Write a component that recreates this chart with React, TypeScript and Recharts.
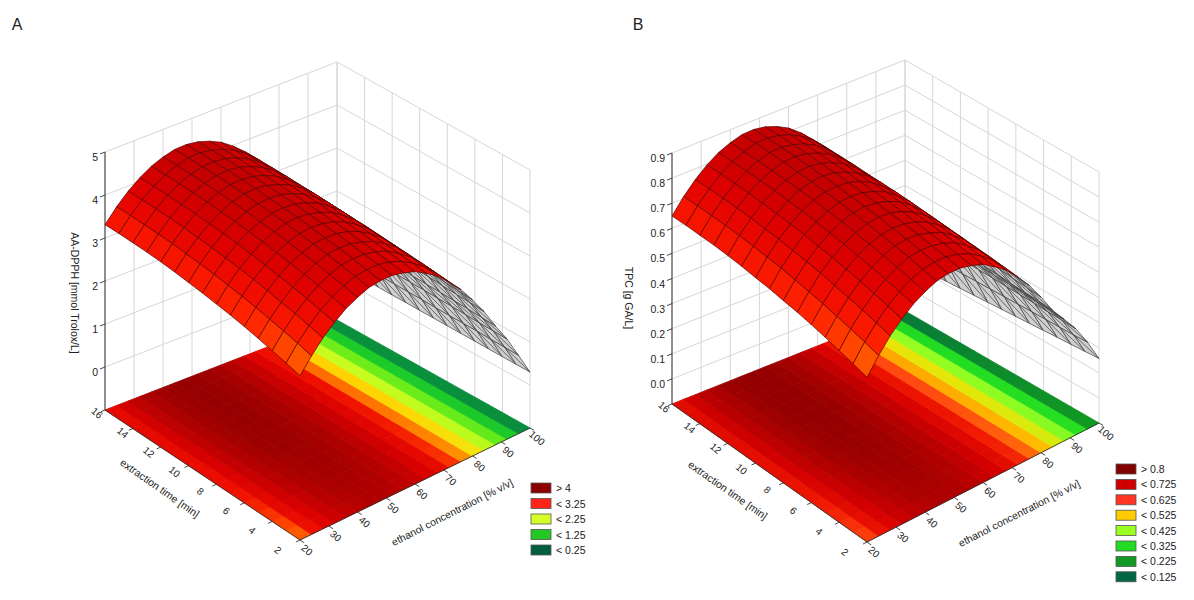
import React from 'react';
import { ScatterChart, Scatter, XAxis, YAxis } from 'recharts';

type Pt = [number, number];

// ─── Data ─────────────────────────────────────────────────────────────────────
const TIME = [2, 3, 4, 5, 6, 7, 8, 9, 10, 11, 12, 13, 14, 15, 16];
const ETHANOL = [20, 24, 28, 32, 36, 40, 44, 48, 52, 56, 60, 64, 68, 72, 76, 80, 84, 88, 92, 96, 100];
const TIME_TICKS = [2, 4, 6, 8, 10, 12, 14, 16];
const ETHANOL_TICKS = [20, 30, 40, 50, 60, 70, 80, 90, 100];
const AA_TICKS = [0, 1, 2, 3, 4, 5];
const TPC_TICKS = [0, 0.1, 0.2, 0.3, 0.4, 0.5, 0.6, 0.7, 0.8, 0.9];

// rows = extraction time (2..16 min), columns = ethanol (20..100 % v/v)
const AA_DPPH = [
  [2.82, 3.15, 3.44, 3.67, 3.86, 3.99, 4.09, 4.12, 4.11, 4.04, 3.94, 3.77, 3.57, 3.30, 3.00, 2.63, 2.23, 1.76, 1.33, 0.82, 0.30],
  [2.90, 3.23, 3.51, 3.74, 3.92, 4.05, 4.14, 4.17, 4.16, 4.09, 3.98, 3.81, 3.60, 3.33, 3.02, 2.65, 2.25, 1.78, 1.34, 0.83, 0.30],
  [2.97, 3.30, 3.58, 3.80, 3.98, 4.11, 4.20, 4.22, 4.20, 4.13, 4.02, 3.84, 3.63, 3.36, 3.05, 2.67, 2.26, 1.79, 1.34, 0.83, 0.30],
  [3.04, 3.36, 3.63, 3.86, 4.03, 4.16, 4.24, 4.27, 4.24, 4.16, 4.05, 3.87, 3.66, 3.38, 3.06, 2.69, 2.27, 1.80, 1.35, 0.84, 0.30],
  [3.10, 3.42, 3.69, 3.91, 4.08, 4.20, 4.28, 4.30, 4.28, 4.20, 4.08, 3.90, 3.68, 3.40, 3.08, 2.70, 2.29, 1.81, 1.36, 0.84, 0.30],
  [3.15, 3.47, 3.74, 3.95, 4.12, 4.24, 4.32, 4.34, 4.31, 4.23, 4.10, 3.92, 3.70, 3.42, 3.10, 2.72, 2.30, 1.81, 1.36, 0.84, 0.30],
  [3.19, 3.51, 3.78, 3.99, 4.16, 4.28, 4.35, 4.37, 4.33, 4.25, 4.13, 3.94, 3.72, 3.44, 3.11, 2.73, 2.30, 1.82, 1.37, 0.84, 0.30],
  [3.23, 3.55, 3.81, 4.03, 4.19, 4.30, 4.38, 4.39, 4.36, 4.27, 4.15, 3.96, 3.74, 3.45, 3.12, 2.74, 2.31, 1.83, 1.37, 0.85, 0.30],
  [3.26, 3.58, 3.84, 4.05, 4.22, 4.33, 4.40, 4.41, 4.38, 4.29, 4.16, 3.97, 3.75, 3.46, 3.13, 2.75, 2.32, 1.83, 1.37, 0.85, 0.30],
  [3.29, 3.60, 3.86, 4.07, 4.23, 4.35, 4.42, 4.43, 4.39, 4.30, 4.17, 3.99, 3.76, 3.47, 3.14, 2.75, 2.32, 1.84, 1.38, 0.85, 0.30],
  [3.31, 3.62, 3.88, 4.09, 4.25, 4.36, 4.43, 4.44, 4.40, 4.31, 4.18, 3.99, 3.76, 3.48, 3.15, 2.76, 2.33, 1.84, 1.38, 0.85, 0.30],
  [3.32, 3.63, 3.89, 4.10, 4.26, 4.37, 4.44, 4.45, 4.41, 4.32, 4.19, 4.00, 3.77, 3.48, 3.15, 2.76, 2.33, 1.84, 1.38, 0.85, 0.30],
  [3.32, 3.63, 3.89, 4.10, 4.26, 4.37, 4.44, 4.45, 4.41, 4.32, 4.19, 4.00, 3.77, 3.48, 3.15, 2.76, 2.33, 1.84, 1.38, 0.85, 0.30],
  [3.32, 3.63, 3.89, 4.10, 4.26, 4.37, 4.44, 4.45, 4.41, 4.32, 4.19, 4.00, 3.77, 3.48, 3.15, 2.76, 2.33, 1.84, 1.38, 0.85, 0.30],
  [3.31, 3.62, 3.88, 4.09, 4.25, 4.36, 4.43, 4.44, 4.40, 4.31, 4.18, 3.99, 3.76, 3.48, 3.15, 2.76, 2.33, 1.84, 1.38, 0.85, 0.30],
];

const TPC = [
  [0.556, 0.619, 0.674, 0.717, 0.753, 0.778, 0.797, 0.803, 0.801, 0.788, 0.769, 0.736, 0.698, 0.647, 0.590, 0.520, 0.444, 0.384, 0.323, 0.246, 0.157],
  [0.571, 0.634, 0.687, 0.731, 0.765, 0.790, 0.807, 0.812, 0.810, 0.797, 0.776, 0.744, 0.704, 0.653, 0.594, 0.524, 0.448, 0.388, 0.325, 0.243, 0.153],
  [0.584, 0.647, 0.700, 0.742, 0.776, 0.801, 0.818, 0.822, 0.818, 0.805, 0.784, 0.750, 0.710, 0.658, 0.600, 0.527, 0.449, 0.390, 0.325, 0.241, 0.149],
  [0.598, 0.658, 0.710, 0.753, 0.786, 0.810, 0.826, 0.831, 0.826, 0.810, 0.790, 0.755, 0.715, 0.662, 0.601, 0.531, 0.451, 0.392, 0.327, 0.240, 0.145],
  [0.609, 0.670, 0.721, 0.763, 0.795, 0.818, 0.833, 0.837, 0.833, 0.818, 0.795, 0.761, 0.719, 0.666, 0.605, 0.533, 0.455, 0.394, 0.328, 0.238, 0.141],
  [0.619, 0.679, 0.731, 0.771, 0.803, 0.826, 0.841, 0.845, 0.839, 0.824, 0.799, 0.765, 0.723, 0.670, 0.609, 0.537, 0.457, 0.394, 0.328, 0.236, 0.137],
  [0.626, 0.687, 0.738, 0.778, 0.810, 0.833, 0.847, 0.850, 0.843, 0.828, 0.805, 0.769, 0.727, 0.674, 0.611, 0.539, 0.457, 0.396, 0.330, 0.234, 0.133],
  [0.634, 0.695, 0.744, 0.786, 0.816, 0.837, 0.852, 0.854, 0.848, 0.831, 0.809, 0.772, 0.731, 0.676, 0.613, 0.541, 0.459, 0.398, 0.330, 0.232, 0.129],
  [0.639, 0.700, 0.750, 0.790, 0.822, 0.843, 0.856, 0.858, 0.852, 0.835, 0.810, 0.774, 0.733, 0.677, 0.615, 0.543, 0.461, 0.398, 0.330, 0.230, 0.125],
  [0.645, 0.704, 0.753, 0.793, 0.824, 0.847, 0.860, 0.862, 0.854, 0.837, 0.812, 0.778, 0.734, 0.679, 0.617, 0.543, 0.461, 0.400, 0.332, 0.228, 0.121],
  [0.649, 0.708, 0.757, 0.797, 0.828, 0.848, 0.862, 0.864, 0.856, 0.839, 0.814, 0.778, 0.734, 0.681, 0.619, 0.544, 0.463, 0.400, 0.332, 0.226, 0.117],
  [0.651, 0.710, 0.759, 0.799, 0.829, 0.850, 0.864, 0.866, 0.858, 0.841, 0.816, 0.780, 0.736, 0.681, 0.619, 0.544, 0.463, 0.400, 0.332, 0.222, 0.113],
  [0.651, 0.710, 0.759, 0.799, 0.829, 0.850, 0.864, 0.866, 0.858, 0.841, 0.816, 0.780, 0.736, 0.681, 0.619, 0.544, 0.463, 0.400, 0.332, 0.218, 0.109],
  [0.651, 0.710, 0.759, 0.799, 0.829, 0.850, 0.864, 0.866, 0.858, 0.841, 0.816, 0.780, 0.736, 0.681, 0.619, 0.544, 0.463, 0.400, 0.332, 0.214, 0.105],
  [0.649, 0.708, 0.757, 0.797, 0.828, 0.848, 0.862, 0.864, 0.856, 0.839, 0.814, 0.778, 0.734, 0.681, 0.619, 0.544, 0.463, 0.400, 0.332, 0.210, 0.101],
];

const AA_LEGEND = ['> 4', '< 3.25', '< 2.25', '< 1.25', '< 0.25'];
const TPC_LEGEND = ['> 0.8', '< 0.725', '< 0.625', '< 0.525', '< 0.425', '< 0.325', '< 0.225', '< 0.125'];

// ─── Layout ───────────────────────────────────────────────────────────────────
const CHART_W = 1178;
const CHART_H = 584;
// the hidden axes run in page pixels, so the projected plane maps 1:1
const X_MIN = 8;
const X_MAX = 8 + CHART_W;
const Y_MIN = 8;
const Y_MAX = 8 + CHART_H;
const SX = CHART_W / (X_MAX - X_MIN);
const SY = CHART_H / (Y_MAX - Y_MIN);
const FONT = '"Liberation Sans", Arial, sans-serif';

const T_MIN = TIME[0];
const T_MAX = TIME[TIME.length - 1];
const E_MIN = ETHANOL[0];
const E_MAX = ETHANOL[ETHANOL.length - 1];

type Stops = [number, string][];

interface Panel {
  letter: string;
  letterAt: Pt;
  L: Pt; B: Pt; F: Pt; R: Pt; // floor corners
  topY: number;
  zMin: number;
  zMax: number;
  zTicks: number[];
  zFmt: (v: number) => string;
  grid: number[][];
  zTitle: string;
  zTitleAt: Pt;
  timeTitleAt: Pt;
  ethTitleAt: Pt;
  legend: string[];
  legendColors: string[];
  legendAt: Pt;
  legendStep: number;
  floorStops: Stops;
  surfStops: Stops;
}

const PANEL_A: Panel = {
  letter: 'A',
  letterAt: [17, 24],
  L: [105, 410], B: [337, 320], F: [300, 540], R: [530, 428],
  topY: 152,
  zMin: -1,
  zMax: 5,
  zTicks: AA_TICKS,
  zFmt: (v) => String(v),
  grid: AA_DPPH,
  zTitle: 'AA-DPPH [mmol Trolox/L]',
  zTitleAt: [75, 293],
  timeTitleAt: [160, 488],
  ethTitleAt: [452, 512],
  legend: AA_LEGEND,
  legendColors: ['#8a0000', '#ff2418', '#d6ff2a', '#24c824', '#005e3e'],
  legendAt: [531, 488],
  legendStep: 15.5,
  floorStops: [
    [0.0, '#005a3c'], [0.3, '#006a40'], [0.75, '#0fa83a'], [1.25, '#22d822'], [1.75, '#8cf516'],
    [2.25, '#e4ff22'], [2.55, '#ffd200'], [2.85, '#ff8a00'], [3.1, '#ff4400'], [3.3, '#f01000'],
    [3.7, '#d80000'], [4.05, '#b80000'], [4.45, '#960000'],
  ],
  surfStops: [
    [1.5, '#ffd84a'], [2.5, '#ffb020'], [2.8, '#ff8c10'], [3.0, '#ff5a00'], [3.25, '#ff2400'],
    [3.6, '#f00c00'], [4.0, '#dc0000'], [4.45, '#c40000'],
  ],
};

const PANEL_B: Panel = {
  letter: 'B',
  letterAt: [638, 24],
  L: [672, 404], B: [905, 311], F: [867, 542], R: [1099, 423],
  topY: 153,
  zMin: -0.1,
  zMax: 0.9,
  zTicks: TPC_TICKS,
  zFmt: (v) => v.toFixed(1),
  grid: TPC,
  zTitle: 'TPC [g GA/L]',
  zTitleAt: [629, 298],
  timeTitleAt: [728, 490],
  ethTitleAt: [1019, 513],
  legend: TPC_LEGEND,
  legendColors: ['#820000', '#d00000', '#ff3422', '#ffcc00', '#9cff22', '#22dc22', '#129a24', '#006644'],
  legendAt: [1116, 469],
  legendStep: 15.4,
  floorStops: [
    [0.1, '#005a3c'], [0.13, '#006644'], [0.2, '#119922'], [0.28, '#22dd22'], [0.37, '#99ff22'],
    [0.45, '#ffdd00'], [0.52, '#ff9900'], [0.58, '#ff4a10'], [0.64, '#ee1500'], [0.72, '#d40000'],
    [0.8, '#b00000'], [0.866, '#920000'],
  ],
  surfStops: [
    [0.3, '#ffe050'], [0.5, '#ffc020'], [0.55, '#ff9a10'], [0.59, '#ff5a00'], [0.64, '#ff2400'],
    [0.7, '#f00c00'], [0.78, '#dc0000'], [0.866, '#c40000'],
  ],
};

const PANELS = [PANEL_A, PANEL_B];

// ─── Helpers ──────────────────────────────────────────────────────────────────
interface Mark {
  kind: 'poly' | 'line' | 'text' | 'rect';
  x: number;
  y: number;
  pts?: Pt[];
  fill?: string;
  stroke?: string;
  sw?: number;
  diag?: boolean;
  text?: string;
  anchor?: 'start' | 'middle' | 'end';
  rot?: number;
  size?: number;
  w?: number;
  h?: number;
}

const zPx = (p: Panel) => (p.L[1] - p.topY) / (p.zMax - p.zMin);

function project(p: Panel, t: number, e: number, z: number): Pt {
  const u = (e - E_MIN) / (E_MAX - E_MIN);
  const w = (T_MAX - t) / (T_MAX - T_MIN);
  const k = [(1 - u) * (1 - w), u * (1 - w), (1 - u) * w, u * w];
  const c = [p.L, p.B, p.F, p.R];
  let x = 0;
  let y = 0;
  c.forEach((q, i) => { x += k[i] * q[0]; y += k[i] * q[1]; });
  return [x, y - (z - p.zMin) * zPx(p)];
}

function hexRgb(h: string) {
  const n = parseInt(h.slice(1), 16);
  return [(n >> 16) & 255, (n >> 8) & 255, n & 255];
}

function colorAt(stops: Stops, v: number) {
  if (v <= stops[0][0]) return stops[0][1];
  for (let i = 1; i < stops.length; i++) {
    if (v <= stops[i][0]) {
      const [v0, c0] = stops[i - 1];
      const [v1, c1] = stops[i];
      const f = (v - v0) / (v1 - v0);
      const a = hexRgb(c0);
      const b = hexRgb(c1);
      return `rgb(${a.map((ch, j) => Math.round(ch + (b[j] - ch) * f)).join(',')})`;
    }
  }
  return stops[stops.length - 1][1];
}

const area = (pts: Pt[]) =>
  pts.reduce((s, q, i) => {
    const n = pts[(i + 1) % pts.length];
    return s + q[0] * n[1] - n[0] * q[1];
  }, 0);

const centroid = (pts: Pt[]): Pt => [
  pts.reduce((s, q) => s + q[0], 0) / pts.length,
  pts.reduce((s, q) => s + q[1], 0) / pts.length,
];

function line(a: Pt, b: Pt, stroke: string, sw: number): Mark {
  return { kind: 'line', x: (a[0] + b[0]) / 2, y: (a[1] + b[1]) / 2, pts: [a, b], stroke, sw };
}

function label(at: Pt, text: string, size: number, anchor: 'start' | 'middle' | 'end' = 'middle', rot = 0): Mark {
  return { kind: 'text', x: at[0], y: at[1], text, size, anchor, rot };
}

const cellCorners = (i: number, j: number): [number, number][] => [
  [i, j], [i, j + 1], [i + 1, j + 1], [i + 1, j],
];

// ─── Layers ───────────────────────────────────────────────────────────────────
function wallMarks(p: Panel): Mark[] {
  const out: Mark[] = [];
  const grey = '#d6d6d6';
  const levels = [p.zMin, ...p.zTicks, p.zMax].filter(
    (z, i, arr) => arr.findIndex((o) => Math.abs(o - z) < 1e-9) === i,
  );
  levels.forEach((z) => {
    out.push(line(project(p, T_MAX, E_MIN, z), project(p, T_MAX, E_MAX, z), grey, 1));
    out.push(line(project(p, T_MAX, E_MAX, z), project(p, T_MIN, E_MAX, z), grey, 1));
  });
  ETHANOL_TICKS.forEach((e) => out.push(line(project(p, T_MAX, e, p.zMin), project(p, T_MAX, e, p.zMax), grey, 1)));
  TIME_TICKS.forEach((t) => out.push(line(project(p, t, E_MAX, p.zMin), project(p, t, E_MAX, p.zMax), grey, 1)));
  return out;
}

function floorMarks(p: Panel): Mark[] {
  const out: Mark[] = [];
  for (let i = 0; i < TIME.length - 1; i++) {
    for (let j = 0; j < ETHANOL.length - 1; j++) {
      const c = cellCorners(i, j);
      const pts = c.map(([a, b]) => project(p, TIME[a], ETHANOL[b], p.zMin));
      const v = c.reduce((s, [a, b]) => s + p.grid[a][b], 0) / 4;
      const fill = colorAt(p.floorStops, v);
      const [x, y] = centroid(pts);
      out.push({ kind: 'poly', x, y, pts, fill, stroke: fill, sw: 0.8 });
    }
  }
  return out;
}

// back-to-front (far corner is long time / high ethanol) so nearer cells paint over
function surfaceMarks(p: Panel): Mark[] {
  const out: Mark[] = [];
  for (let i = TIME.length - 2; i >= 0; i--) {
    for (let j = ETHANOL.length - 2; j >= 0; j--) {
      const c = cellCorners(i, j);
      const pts = c.map(([a, b]) => project(p, TIME[a], ETHANOL[b], p.grid[a][b]));
      const flat = c.map(([a, b]) => project(p, TIME[a], ETHANOL[b], p.zMin));
      const under = Math.sign(area(pts)) !== Math.sign(area(flat));
      const v = c.reduce((s, [a, b]) => s + p.grid[a][b], 0) / 4;
      const [x, y] = centroid(pts);
      out.push({
        kind: 'poly', x, y, pts,
        fill: under ? '#cfcfcf' : colorAt(p.surfStops, v),
        stroke: under ? '#3c3c3c' : '#5a0000',
        sw: 0.7,
        diag: under,
      });
    }
  }
  return out;
}

function axisMarks(p: Panel): Mark[] {
  const out: Mark[] = [];
  const dark = '#333';
  out.push(line(project(p, T_MAX, E_MIN, p.zMin), project(p, T_MAX, E_MIN, p.zMax), dark, 1));
  out.push(line(project(p, T_MAX, E_MIN, p.zMin), project(p, T_MIN, E_MIN, p.zMin), dark, 0.9));
  out.push(line(project(p, T_MIN, E_MIN, p.zMin), project(p, T_MIN, E_MAX, p.zMin), dark, 0.9));

  p.zTicks.forEach((z) => {
    const [x, y] = project(p, T_MAX, E_MIN, z);
    out.push(line([x, y], [x - 5, y + 2], dark, 0.9));
    out.push(label([x - 7, y + 5], p.zFmt(z), 10.5, 'end'));
  });
  TIME_TICKS.forEach((t) => {
    const w = (T_MAX - t) / (T_MAX - T_MIN);
    const [x, y] = project(p, t, E_MIN, p.zMin);
    out.push(line([x, y], project(p, t, E_MIN - 1.4, p.zMin), dark, 0.9));
    out.push(label([x - 8 - 14 * w, y + 3 + 7 * w], String(t), 10, 'middle', 40));
  });
  ETHANOL_TICKS.forEach((e) => {
    const [x, y] = project(p, T_MIN, e, p.zMin);
    out.push(line([x, y], project(p, T_MIN - 0.3, e, p.zMin), dark, 0.9));
    out.push(label([x + 7, y + 10], String(e), 10, 'middle', 40));
  });

  out.push(label(p.zTitleAt, p.zTitle, 10.5, 'middle', 90));
  out.push(label(p.timeTitleAt, 'extraction time [min]', 10.5, 'middle', 35));
  out.push(label(p.ethTitleAt, 'ethanol concentration [% v/v]', 10.5, 'middle', -27));

  p.legend.forEach((txt, k) => {
    const y = p.legendAt[1] + k * p.legendStep;
    out.push({ kind: 'rect', x: p.legendAt[0] + 10, y, w: 20, h: 10, fill: p.legendColors[k], stroke: '#555', sw: 0.8 });
    out.push(label([p.legendAt[0] + 25, y], txt, 10.5, 'start'));
  });
  out.push(label(p.letterAt, p.letter, 16));
  return out;
}

// ─── Shape renderer ───────────────────────────────────────────────────────────
function MarkShape(props: any) {
  const { cx, cy, payload } = props;
  const m = payload as Mark;
  if (!m || cx == null || cy == null) return <g />;
  const px = (q: Pt): Pt => [cx + (q[0] - m.x) * SX, cy + (q[1] - m.y) * SY];

  if (m.kind === 'poly' && m.pts) {
    const pts = m.pts.map(px);
    return (
      <g>
        <polygon
          points={pts.map((q) => `${q[0].toFixed(2)},${q[1].toFixed(2)}`).join(' ')}
          fill={m.fill}
          stroke={m.stroke}
          strokeWidth={m.sw}
          strokeLinejoin="round"
        />
        {m.diag && (
          <line x1={pts[1][0]} y1={pts[1][1]} x2={pts[3][0]} y2={pts[3][1]} stroke={m.stroke} strokeWidth={m.sw} />
        )}
      </g>
    );
  }
  if (m.kind === 'line' && m.pts) {
    const [a, b] = m.pts.map(px);
    return <line x1={a[0]} y1={a[1]} x2={b[0]} y2={b[1]} stroke={m.stroke} strokeWidth={m.sw} />;
  }
  if (m.kind === 'rect') {
    return (
      <rect x={cx - (m.w ?? 0) / 2} y={cy - (m.h ?? 0) / 2} width={m.w} height={m.h} fill={m.fill} stroke={m.stroke} strokeWidth={m.sw} />
    );
  }
  return (
    <text
      x={cx}
      y={cy}
      textAnchor={m.anchor}
      dominantBaseline="central"
      transform={m.rot ? `rotate(${m.rot} ${cx} ${cy})` : undefined}
      fontFamily={FONT}
      fontSize={m.size}
      fill="#222"
    >
      {m.text}
    </text>
  );
}

export default function App() {
  return (
    <div style={{ width: CHART_W, height: CHART_H, background: '#fff' }}>
      <ScatterChart width={CHART_W} height={CHART_H} margin={{ top: 0, right: 0, bottom: 0, left: 0 }}>
        <XAxis type="number" dataKey="x" domain={[X_MIN, X_MAX]} allowDataOverflow hide />
        <YAxis type="number" dataKey="y" domain={[Y_MIN, Y_MAX]} allowDataOverflow reversed hide />
        {PANELS.map((p) => [
          <Scatter key={`${p.letter}-walls`} data={wallMarks(p)} shape={MarkShape} isAnimationActive={false} />,
          <Scatter key={`${p.letter}-floor`} data={floorMarks(p)} shape={MarkShape} isAnimationActive={false} />,
          <Scatter key={`${p.letter}-surface`} data={surfaceMarks(p)} shape={MarkShape} isAnimationActive={false} />,
          <Scatter key={`${p.letter}-axes`} data={axisMarks(p)} shape={MarkShape} isAnimationActive={false} />,
        ])}
      </ScatterChart>
    </div>
  );
}
